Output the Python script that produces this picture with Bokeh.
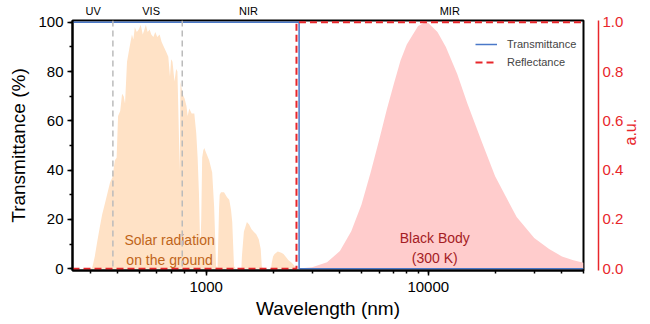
import math
from bokeh.plotting import figure
from bokeh.models import (Range1d, LinearAxis, LogAxis, SingleIntervalTicker, FixedTicker, Span,
                          Legend, LegendItem, NumeralTickFormatter, PrintfTickFormatter)
from bokeh.core.properties import value
from bokeh.embed import file_html
from bokeh.resources import INLINE

FONT = "Liberation Sans"

# ---- data ----
solar_wl = [300, 307, 315, 323, 332, 340, 351, 360, 369, 378, 388, 395, 401, 410, 418, 425, 431,
            440, 450, 463, 470, 477, 487, 497, 507, 518, 527, 535, 545, 556, 566, 578, 590, 602,
            617, 630, 645, 660, 675, 687, 695, 705, 720, 732, 742, 760, 766, 782, 800, 815, 825,
            839, 860, 884, 902, 915, 928, 940, 950, 959, 970, 980, 1000, 1031, 1064, 1086, 1108,
            1125, 1143, 1150, 1166, 1203, 1241, 1270, 1293, 1310, 1334, 1360, 1440, 1448, 1478,
            1525, 1560, 1600, 1637, 1680, 1724, 1760, 1779, 1800, 1960, 1970, 2000, 2032, 2100,
            2180, 2228, 2300, 2347, 2420, 2480, 2522, 2540]
solar_val = [0, 0.5, 5, 11, 17, 22, 27, 31, 35, 37, 44, 45, 62, 64, 71, 70, 67,
             84, 89, 95, 93, 98, 96, 97, 99, 95, 97, 99, 96, 97, 95, 94, 96, 94,
             95, 92, 90, 88, 86, 78, 85, 84, 76, 81, 80, 40, 76, 71, 69, 66, 62,
             65, 63, 63, 55, 45, 30, 8, 20, 45, 48, 49, 47, 44, 39, 25, 1,
             0.5, 25, 30, 31, 31, 29, 28, 24, 19, 1, 0, 0, 5, 15,
             19, 18, 16, 15, 14, 12, 8, 1, 0, 0, 2, 5, 6, 7,
             6.5, 6, 4.5, 3.5, 2.5, 1.5, 0.5, 0]

bb_wl = [2500, 2600, 3000, 3500, 4000, 4500, 5000, 5500, 6000, 6500, 7000, 7500, 8000, 9000,
         9700, 10000, 11000, 12000, 13500, 15000, 17500, 20000, 25000, 30000, 35000, 40000,
         45000, 50000]
bb_val = [0.0, 0.001, 0.006, 0.026, 0.072, 0.152, 0.26, 0.39, 0.52, 0.645, 0.75, 0.845, 0.91,
          0.985, 1.0, 0.997, 0.96, 0.90, 0.79, 0.67, 0.51, 0.375, 0.21, 0.125, 0.08, 0.05,
          0.035, 0.024]

trans_wl = [250, 2620, 2620, 50000]
trans_val = [100, 100, 0, 0]
refl_wl = [250, 2550, 2550, 50000]
refl_val = [0, 0, 1, 1]

region_bounds = [380, 780]
region_names = ["UV", "VIS", "NIR", "MIR"]
region_x = [310, 565, 1550, 12500]

au_ticks = [0.0, 0.2, 0.4, 0.6, 0.8, 1.0]

BLUE = "#4A78C8"
RED = "#E8262B"

p = figure(width=650, height=324, x_axis_type="log",
           x_range=Range1d(250, 50000), y_range=Range1d(-0.7, 100.7),
           output_backend="svg", toolbar_location=None,
           min_border_left=72, min_border_top=20, min_border_right=0, min_border_bottom=54)
p.extra_y_ranges = {"au": Range1d(-0.007, 1.007)}
p.grid.visible = False
p.outline_line_color = "black"
p.outline_line_width = 2
p.background_fill_color = "white"
p.border_fill_color = "white"

# fills
p.varea(x=solar_wl, y1=0, y2=solar_val, fill_color="#FFE2C6", fill_alpha=1)
p.varea(x=bb_wl, y1=0, y2=bb_val, fill_color="#FFCCCC", fill_alpha=1, y_range_name="au")

for b in region_bounds:
    p.add_layout(Span(location=b, dimension="height", line_color="#BBBBBB",
                      line_dash="6 4", line_width=1.5))

rt = p.line(trans_wl, trans_val, line_color=BLUE, line_width=1.5)
rr = p.line(refl_wl, refl_val, line_color=RED, line_width=2, line_dash="7 4", y_range_name="au")

# annotation texts
p.text(x=[684], y=[7.6], text=["Solar radiation\non the ground"], text_align="center",
       text_baseline="middle", text_color="#C0651A", text_font=value(FONT),
       text_font_size="14px", text_line_height=1.2)
p.text(x=[10700], y=[8.4], text=["Black Body\n(300 K)"], text_align="center",
       text_baseline="middle", text_color="#A51C24", text_font=value(FONT),
       text_font_size="14px", text_line_height=1.2)

# axes styling
def style(ax, color="black"):
    ax.axis_line_color = color
    ax.axis_line_width = 2
    ax.major_tick_line_color = color
    ax.minor_tick_line_color = color
    ax.major_tick_line_width = 1.5
    ax.minor_tick_line_width = 1.5
    ax.major_tick_in = 0
    ax.minor_tick_in = 0
    ax.major_tick_out = 5
    ax.minor_tick_out = 3
    ax.major_label_text_font = FONT
    ax.major_label_text_font_size = "15px"
    ax.major_label_text_color = color
    ax.axis_label_text_font = FONT
    ax.axis_label_text_font_size = "19px"
    ax.axis_label_text_font_style = "normal"
    ax.axis_label_text_color = color

xa = p.xaxis[0]
style(xa)
xa.axis_label = "Wavelength (nm)"
xa.formatter = NumeralTickFormatter(format="0")
xa.major_label_standoff = 6
xa.axis_label_standoff = 3

ya = p.yaxis[0]
style(ya)
ya.axis_label = "Transmittance (%)"
ya.ticker = SingleIntervalTicker(interval=20, num_minor_ticks=2)
ya.major_label_standoff = 4
ya.axis_label_standoff = 6

# region names as a label-only axis above the frame
top = LogAxis(ticker=FixedTicker(ticks=region_x),
              major_label_overrides={x: n for x, n in zip(region_x, region_names)},
              axis_line_color=None, major_tick_line_color=None, minor_tick_line_color=None,
              major_tick_out=0, major_tick_in=0, minor_tick_out=0, minor_tick_in=0,
              major_label_standoff=4, major_label_text_font=FONT,
              major_label_text_font_size="11px", major_label_text_color="black")
p.add_layout(top, "above")

# invisible spacer axis to push the red axis away from the frame
spacer = LinearAxis(y_range_name="au", ticker=FixedTicker(ticks=[]), axis_line_color=None,
                    major_tick_line_color=None, minor_tick_line_color=None,
                    major_tick_out=0, major_tick_in=0, minor_tick_out=0, minor_tick_in=0,
                    major_label_text_color=None, axis_label=" ", axis_label_standoff=0,
                    axis_label_text_font_size="11px", axis_label_text_color="white")
p.add_layout(spacer, "right")

ra = LinearAxis(y_range_name="au", ticker=FixedTicker(ticks=au_ticks),
                formatter=PrintfTickFormatter(format="%.1f"), axis_label="a.u.")
style(ra, RED)
ra.axis_line_width = 1.5
ra.major_tick_line_color = None
ra.minor_tick_line_color = None
ra.major_tick_out = 0
ra.minor_tick_out = 0
ra.major_label_standoff = 4
ra.axis_label_standoff = 4
ra.axis_label_text_font_size = "16px"
try:
    ra.axis_label_orientation = math.pi / 2
except Exception:
    pass
p.add_layout(ra, "right")

legend = Legend(items=[LegendItem(label="Transmittance", renderers=[rt]),
                       LegendItem(label="Reflectance", renderers=[rr])],
                location=(403, 199), background_fill_alpha=0, border_line_color=None,
                label_text_font=FONT, label_text_font_size="11px", glyph_width=22,
                glyph_height=18, label_height=18, spacing=0, padding=0, margin=0,
                label_standoff=10)
p.add_layout(legend)

open("out.html", "w").write(file_html(p, INLINE))
